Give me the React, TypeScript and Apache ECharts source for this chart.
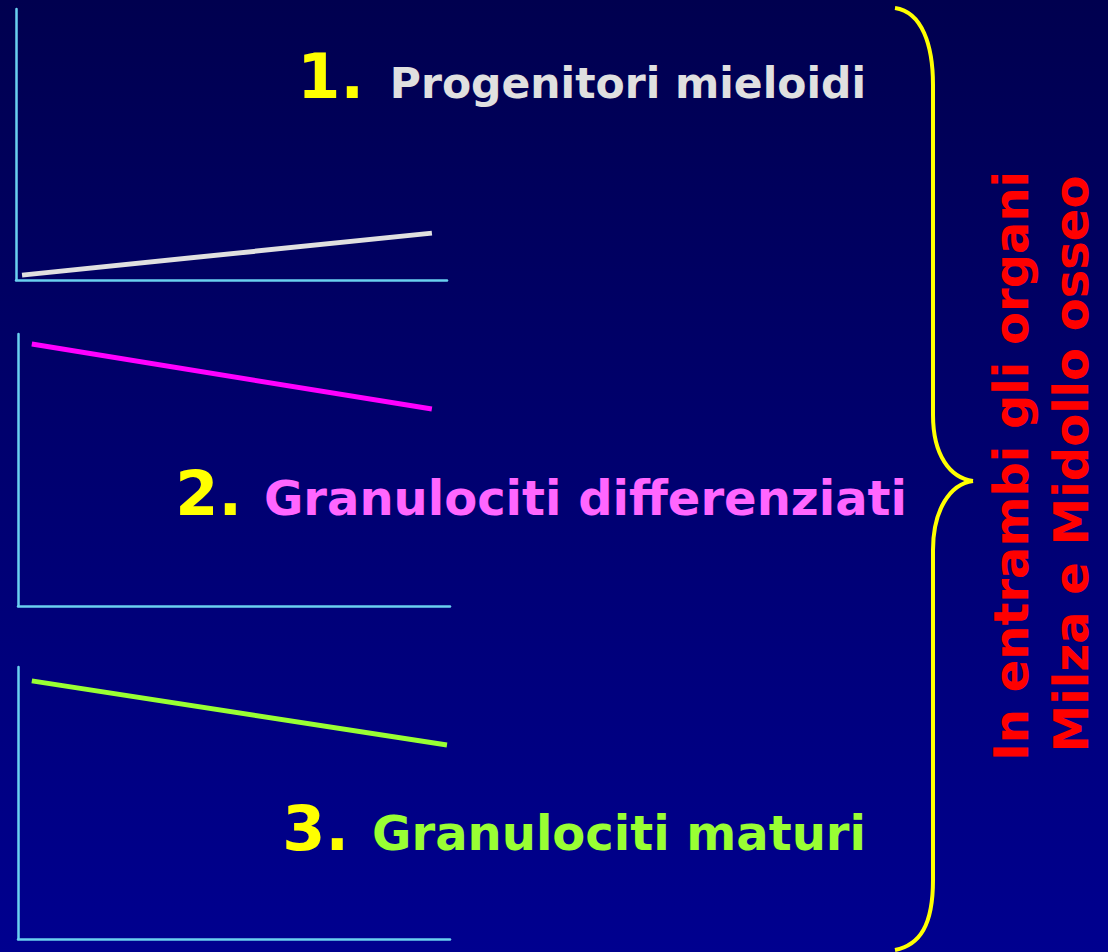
import React, { useEffect, useRef } from "react";
import * as echarts from "echarts";

// Panel lines (x, y pairs on a 0..10 scale)
const progenitoriX = [0.14, 9.65];
const progenitoriY = [0.18, 1.73];
const differenziatiX = [0.32, 9.58];
const differenziatiY = [9.63, 7.24];
const maturiX = [0.32, 9.93];
const maturiY = [9.49, 7.13];

const numbers = ["1.", "2.", "3."];
const labels = ["Progenitori mieloidi", "Granulociti differenziati", "Granulociti maturi"];
const sideLines = ["In entrambi gli organi", "Milza e Midollo osseo"];

const FONT = "'DejaVu Sans', Verdana, sans-serif";
const AXIS_COLOR = "#6ad0f0";

export default function App() {
  const ref = useRef<HTMLDivElement>(null);
  useEffect(() => {
    document.body.style.margin = "0";
    const chart = echarts.init(ref.current!, undefined, { renderer: "svg" });
    const grids = [
      { left: 16, top: 9, width: 431, height: 271 },
      { left: 18, top: 334, width: 432, height: 272 },
      { left: 18, top: 667, width: 432, height: 272 },
    ];
    const axisBase = {
      type: "value" as const,
      min: 0,
      max: 10,
      axisLabel: { show: false },
      axisTick: { show: false },
      splitLine: { show: false },
      axisLine: { show: true, lineStyle: { color: AXIS_COLOR, width: 2.5 } },
    };
    const mk = (xs: number[], ys: number[]) => xs.map((x, i) => [x, ys[i]]);
    const seriesDefs = [
      { data: mk(progenitoriX, progenitoriY), color: "#e0e0e0", width: 5 },
      { data: mk(differenziatiX, differenziatiY), color: "#ff00ff", width: 5 },
      { data: mk(maturiX, maturiY), color: "#99ff33", width: 5 },
    ];
    const numPos = [
      { x: 364, y: 76 },
      { x: 242, y: 493 },
      { x: 349, y: 828 },
    ];
    const labPos = [
      { x: 866, y: 83, size: 42.5, color: "#e0e0e0" },
      { x: 907, y: 498, size: 48, color: "#ff66ff" },
      { x: 866, y: 833, size: 48, color: "#99ff33" },
    ];
    const yellow = "#ffff00";
    const braceStyle = { stroke: yellow, lineWidth: 4, fill: null as any };
    const graphic: any[] = [];
    numbers.forEach((n, i) => {
      graphic.push({
        type: "text",
        x: numPos[i].x,
        y: numPos[i].y,
        style: {
          text: n,
          fill: yellow,
          font: `bold 62px ${FONT}`,
          textAlign: "right",
          textVerticalAlign: "middle",
        },
      });
      graphic.push({
        type: "text",
        x: labPos[i].x,
        y: labPos[i].y,
        style: {
          text: labels[i],
          fill: labPos[i].color,
          font: `bold ${labPos[i].size}px ${FONT}`,
          textAlign: "right",
          textVerticalAlign: "middle",
        },
      });
    });
    // brace
    graphic.push(
      { type: "bezierCurve", shape: { x1: 895, y1: 8, cpx1: 922, cpy1: 12, cpx2: 933, cpy2: 45, x2: 933, y2: 85 }, style: braceStyle },
      { type: "line", shape: { x1: 933, y1: 85, x2: 933, y2: 415 }, style: braceStyle },
      { type: "bezierCurve", shape: { x1: 933, y1: 415, cpx1: 933, cpy1: 455, cpx2: 950, cpy2: 478, x2: 973, y2: 481 }, style: braceStyle },
      { type: "bezierCurve", shape: { x1: 973, y1: 481, cpx1: 950, cpy1: 484, cpx2: 933, cpy2: 510, x2: 933, y2: 550 }, style: braceStyle },
      { type: "line", shape: { x1: 933, y1: 550, x2: 933, y2: 880 }, style: braceStyle },
      { type: "bezierCurve", shape: { x1: 933, y1: 880, cpx1: 933, cpy1: 925, cpx2: 920, cpy2: 945, x2: 895, y2: 950 }, style: braceStyle }
    );
    const sidePos = [
      { x: 1011, y: 466 },
      { x: 1071, y: 464 },
    ];
    sideLines.forEach((t, i) => {
      graphic.push({
        type: "text",
        x: sidePos[i].x,
        y: sidePos[i].y,
        rotation: Math.PI / 2,
        style: {
          text: t,
          fill: "#ff0000",
          font: `bold 48px ${FONT}`,
          textAlign: "center",
          textVerticalAlign: "middle",
        },
      });
    });

    chart.setOption({
      animation: false,
      backgroundColor: "transparent",
      grid: grids,
      xAxis: grids.map((_, i) => ({ ...axisBase, gridIndex: i })),
      yAxis: grids.map((_, i) => ({ ...axisBase, gridIndex: i })),
      series: seriesDefs.map((s, i) => ({
        type: "line",
        xAxisIndex: i,
        yAxisIndex: i,
        data: s.data,
        showSymbol: false,
        symbol: "none",
        lineStyle: { color: s.color, width: s.width },
        silent: true,
      })),
      graphic,
    });
    return () => chart.dispose();
  }, []);
  return (
    <div
      ref={ref}
      style={{
        position: "absolute",
        left: 0,
        top: 0,
        width: 1108,
        height: 952,
        background: "linear-gradient(to bottom, #00004f 0%, #000070 50%, #00008f 100%)",
      }}
    />
  );
}
